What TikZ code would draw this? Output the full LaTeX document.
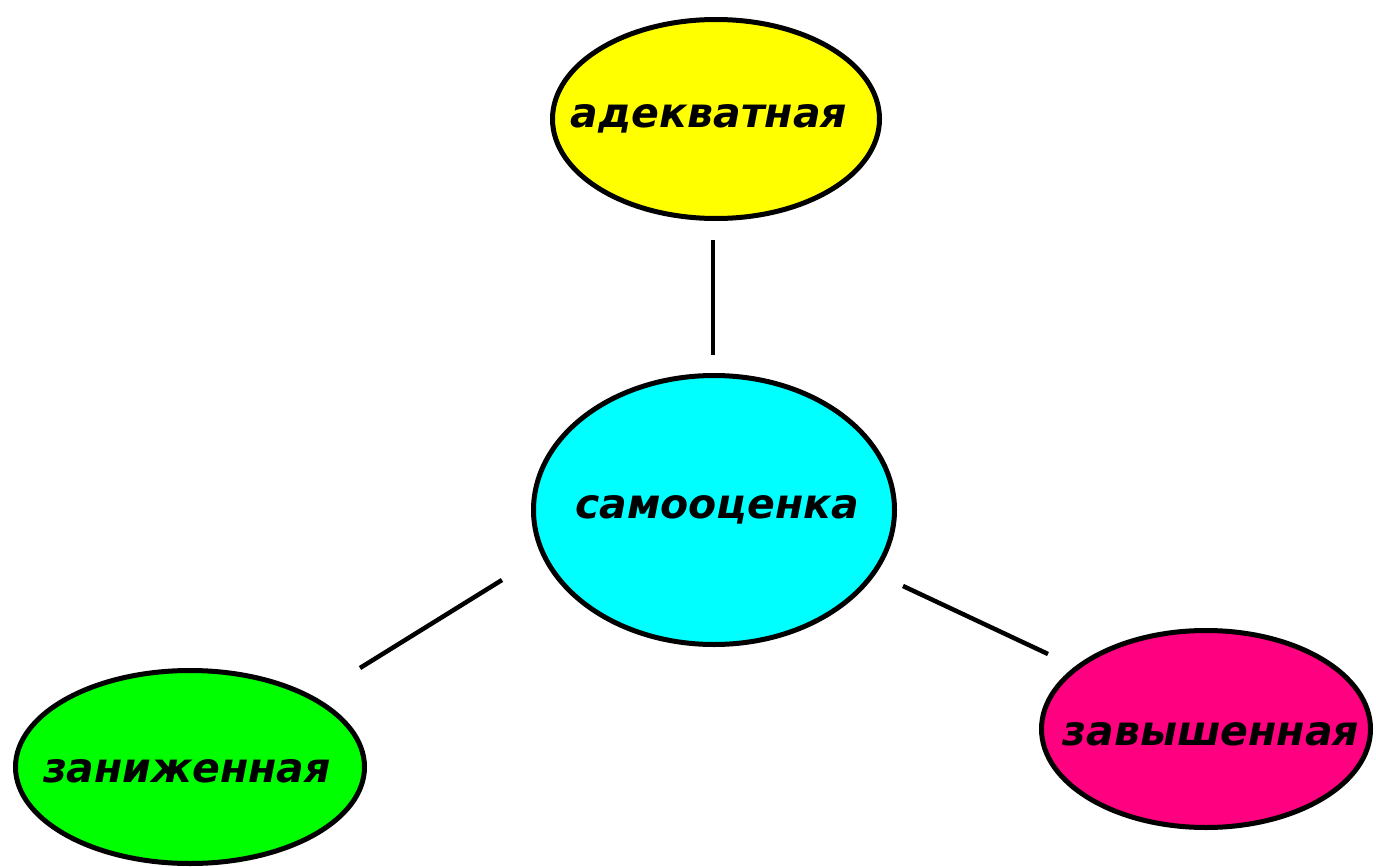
\documentclass[tikz,border=0pt]{standalone}
\usepackage{fontspec}
\setmainfont{DejaVu Sans}
\usetikzlibrary{shapes.geometric}
\definecolor{cyel}{HTML}{FFFF00}
\definecolor{ccyan}{HTML}{00FFFF}
\definecolor{cgreen}{HTML}{00FF00}
\definecolor{cpink}{HTML}{FF0080}
\tikzset{
  ell/.style={ellipse, draw=black, line width=5pt, inner sep=0pt},
  lbl/.style={anchor=base, inner sep=0pt, font=\fontsize{41}{48}\selectfont\bfseries\itshape},
  link/.style={line width=4.5pt, line cap=butt}
}
\begin{document}
\begin{tikzpicture}[x=1pt, y=-1pt]
\useasboundingbox (0,0) rectangle (1376,867);
\node[ell, fill=cyel, minimum width=327pt, minimum height=199pt] (top) at (716,119) {};
\node[ell, fill=ccyan, minimum width=361pt, minimum height=269pt] (mid) at (714,510) {};
\node[ell, fill=cgreen, minimum width=349pt, minimum height=193pt] (low) at (190,767) {};
\node[ell, fill=cpink, minimum width=329pt, minimum height=197pt] (high) at (1206,729) {};
\node[lbl] (ttop) at (709,127) {адекватная};
\node[lbl] (tmid) at (717,518) {самооценка};
\node[lbl] (tlow) at (187,782) {заниженная};
\node[lbl] (thigh) at (1211,745) {завышенная};
\coordinate (a1) at (713,240);
\coordinate (a2) at (713,355);
\coordinate (b1) at (502,580);
\coordinate (b2) at (360,668);
\coordinate (c1) at (903,586);
\coordinate (c2) at (1048,654);
\draw[link] (a1) -- (a2);
\draw[link] (b1) -- (b2);
\draw[link] (c1) -- (c2);
\end{tikzpicture}
\end{document}
